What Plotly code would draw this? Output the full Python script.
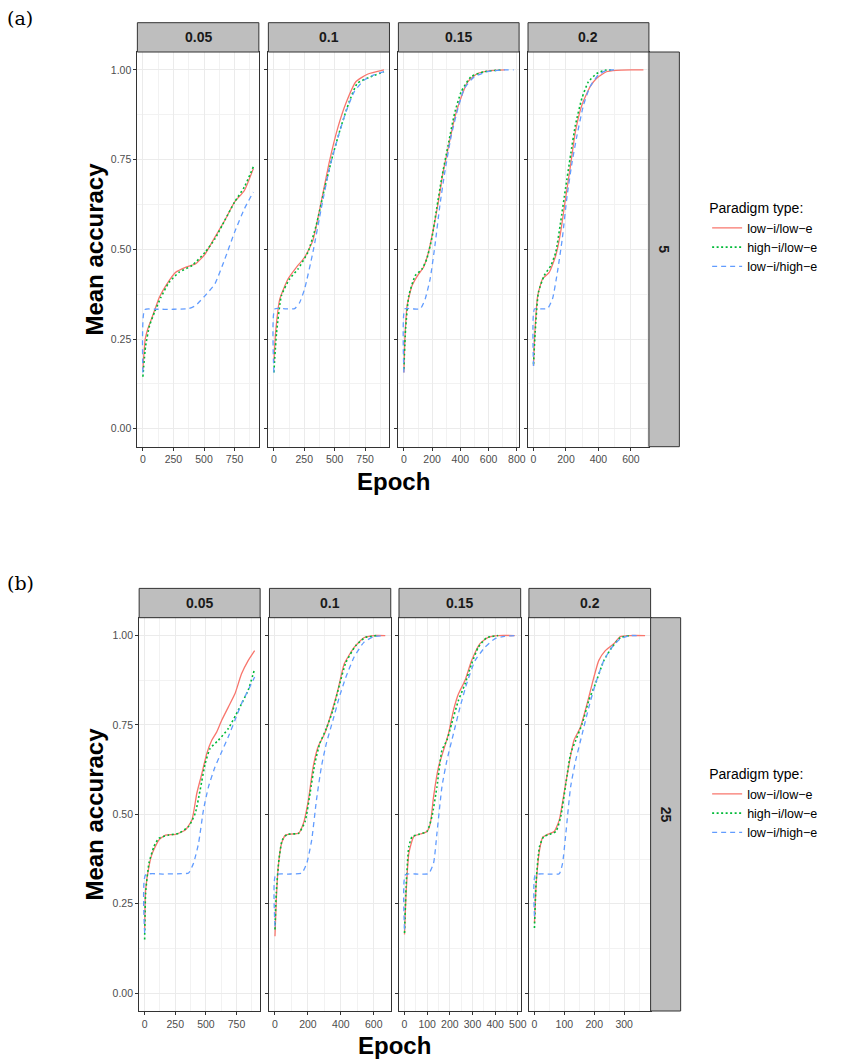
import plotly.graph_objects as go

W, H = 851, 1059

# ---------------- data: panel (a), n = 5 ----------------
facet_labels = ["0.05", "0.1", "0.15", "0.2"]
series_names = ["low\u2212i/low\u2212e", "high\u2212i/low\u2212e", "low\u2212i/high\u2212e"]

a05_lole_x = [0, 19, 40, 80, 134, 188, 268, 348, 429, 509, 589, 670, 750, 830, 903]
a05_lole_y = [0.166, 0.25, 0.278, 0.315, 0.366, 0.399, 0.436, 0.45, 0.459, 0.487, 0.534, 0.581, 0.632, 0.664, 0.725]
a05_hile_x = [0, 22, 54, 94, 147, 214, 295, 402, 509, 589, 670, 750, 830, 903]
a05_hile_y = [0.145, 0.23, 0.287, 0.324, 0.366, 0.408, 0.436, 0.455, 0.492, 0.529, 0.581, 0.632, 0.674, 0.73]
a05_lohe_x = [0, 15, 100, 250, 375, 429, 509, 589, 670, 750, 830, 903]
a05_lohe_y = [0.157, 0.332, 0.333, 0.333, 0.335, 0.343, 0.371, 0.404, 0.473, 0.548, 0.613, 0.66]

a10_lole_x = [0, 14, 49, 117, 185, 253, 321, 389, 456, 524, 592, 674, 769, 905]
a10_lole_y = [0.185, 0.268, 0.362, 0.418, 0.45, 0.478, 0.525, 0.632, 0.744, 0.837, 0.907, 0.967, 0.988, 1.0]
a10_hile_x = [0, 22, 62, 130, 198, 280, 348, 416, 484, 552, 619, 687, 796, 905]
a10_hile_y = [0.157, 0.268, 0.371, 0.418, 0.445, 0.492, 0.567, 0.669, 0.762, 0.842, 0.911, 0.963, 0.981, 0.995]
a10_lohe_x = [0, 8, 100, 171, 212, 253, 321, 389, 456, 524, 592, 660, 742, 823, 905]
a10_lohe_y = [0.157, 0.334, 0.334, 0.335, 0.352, 0.39, 0.492, 0.613, 0.725, 0.809, 0.883, 0.939, 0.972, 0.986, 0.995]

a15_lole_x = [0, 7, 23, 58, 104, 139, 174, 209, 244, 278, 313, 359, 394, 452, 522, 614, 715]
a15_lole_y = [0.157, 0.25, 0.343, 0.399, 0.431, 0.45, 0.492, 0.557, 0.632, 0.716, 0.781, 0.865, 0.911, 0.967, 0.99, 0.998, 1.0]
a15_hile_x = [0, 12, 35, 81, 128, 162, 197, 232, 267, 313, 359, 406, 475, 568, 684]
a15_hile_y = [0.166, 0.278, 0.371, 0.427, 0.445, 0.473, 0.529, 0.613, 0.697, 0.79, 0.879, 0.939, 0.981, 0.995, 1.0]
a15_lohe_x = [0, 7, 60, 116, 151, 186, 220, 255, 290, 336, 383, 429, 499, 591, 707, 777]
a15_lohe_y = [0.157, 0.334, 0.334, 0.334, 0.362, 0.418, 0.511, 0.623, 0.716, 0.818, 0.893, 0.949, 0.981, 0.995, 1.0, 1.0]

a20_lole_x = [0, 6, 26, 56, 97, 137, 167, 197, 228, 258, 298, 348, 389, 449, 510, 600, 677]
a20_lole_y = [0.175, 0.25, 0.371, 0.418, 0.436, 0.483, 0.548, 0.641, 0.734, 0.828, 0.902, 0.953, 0.977, 0.995, 0.999, 1.0, 1.0]
a20_hile_x = [0, 10, 30, 66, 107, 137, 167, 197, 228, 258, 298, 338, 389, 440, 489]
a20_hile_y = [0.18, 0.268, 0.38, 0.427, 0.455, 0.492, 0.576, 0.669, 0.762, 0.846, 0.921, 0.967, 0.99, 0.999, 1.0]
a20_lohe_x = [0, 6, 50, 87, 117, 147, 177, 207, 238, 268, 308, 348, 399, 449, 510]
a20_lohe_y = [0.175, 0.334, 0.334, 0.335, 0.362, 0.436, 0.529, 0.65, 0.744, 0.818, 0.902, 0.953, 0.986, 0.999, 1.0]

# ---------------- data: panel (b), n = 25 ----------------
b05_lole_x = [0, 8, 35, 62, 116, 170, 251, 332, 386, 426, 467, 507, 548, 588, 629, 683, 737, 791, 845, 898]
b05_lole_y = [0.178, 0.289, 0.354, 0.391, 0.428, 0.442, 0.444, 0.456, 0.484, 0.559, 0.614, 0.67, 0.707, 0.73, 0.763, 0.8, 0.837, 0.893, 0.93, 0.958]
b05_hile_x = [0, 8, 35, 76, 116, 197, 278, 359, 413, 453, 494, 534, 601, 683, 764, 845, 898]
b05_hile_y = [0.15, 0.28, 0.363, 0.41, 0.433, 0.442, 0.447, 0.466, 0.503, 0.568, 0.642, 0.684, 0.707, 0.74, 0.791, 0.847, 0.907]
b05_lohe_x = [0, 8, 150, 300, 359, 399, 440, 480, 521, 575, 629, 683, 737, 791, 845, 898]
b05_lohe_y = [0.168, 0.331, 0.333, 0.334, 0.336, 0.363, 0.419, 0.512, 0.577, 0.633, 0.675, 0.717, 0.763, 0.81, 0.847, 0.884]

b10_lole_x = [0, 8, 20, 40, 64, 103, 143, 173, 203, 232, 262, 302, 342, 382, 421, 481, 540, 600, 670]
b10_lole_y = [0.159, 0.261, 0.354, 0.419, 0.442, 0.445, 0.447, 0.475, 0.54, 0.633, 0.689, 0.726, 0.782, 0.847, 0.921, 0.967, 0.994, 1.0, 1.0]
b10_hile_x = [0, 8, 24, 44, 74, 143, 183, 213, 242, 272, 312, 352, 391, 431, 491, 550, 620]
b10_hile_y = [0.178, 0.28, 0.373, 0.428, 0.444, 0.447, 0.48, 0.559, 0.642, 0.698, 0.74, 0.791, 0.861, 0.925, 0.972, 0.995, 1.0]
b10_lohe_x = [0, 4, 80, 163, 193, 223, 252, 282, 312, 352, 391, 431, 481, 540, 600, 670]
b10_lohe_y = [0.187, 0.331, 0.333, 0.336, 0.363, 0.428, 0.54, 0.633, 0.698, 0.763, 0.828, 0.884, 0.94, 0.981, 0.997, 1.0]

b15_lole_x = [0, 7, 19, 41, 70, 99, 114, 128, 150, 172, 194, 216, 238, 267, 296, 332, 369, 413, 486]
b15_lole_y = [0.164, 0.28, 0.391, 0.438, 0.445, 0.452, 0.475, 0.549, 0.633, 0.679, 0.726, 0.791, 0.837, 0.875, 0.93, 0.977, 0.995, 1.0, 1.0]
b15_hile_x = [0, 7, 19, 34, 63, 99, 121, 143, 165, 187, 208, 238, 267, 296, 325, 362, 413]
b15_hile_y = [0.168, 0.298, 0.41, 0.438, 0.444, 0.452, 0.494, 0.577, 0.679, 0.707, 0.754, 0.819, 0.865, 0.921, 0.967, 0.994, 1.0]
b15_lohe_x = [0, 4, 60, 106, 128, 143, 165, 187, 216, 245, 274, 311, 354, 398, 442, 488]
b15_lohe_y = [0.178, 0.331, 0.333, 0.334, 0.363, 0.447, 0.577, 0.651, 0.726, 0.8, 0.865, 0.93, 0.967, 0.991, 0.998, 1.0]

b20_lole_x = [0, 6, 17, 28, 44, 66, 83, 99, 116, 132, 154, 176, 193, 215, 237, 265, 287, 320, 370]
b20_lole_y = [0.196, 0.308, 0.4, 0.436, 0.444, 0.452, 0.484, 0.559, 0.642, 0.707, 0.744, 0.809, 0.865, 0.93, 0.958, 0.977, 0.997, 1.0, 1.0]
b20_hile_x = [0, 6, 17, 31, 50, 72, 88, 105, 121, 138, 160, 182, 204, 232, 259, 287, 320]
b20_hile_y = [0.182, 0.317, 0.41, 0.438, 0.444, 0.452, 0.494, 0.586, 0.67, 0.707, 0.754, 0.819, 0.865, 0.93, 0.967, 0.994, 1.0]
b20_lohe_x = [0, 3, 45, 83, 94, 105, 121, 138, 160, 182, 204, 232, 259, 287, 320, 342]
b20_lohe_y = [0.215, 0.331, 0.333, 0.334, 0.363, 0.447, 0.577, 0.651, 0.726, 0.8, 0.865, 0.93, 0.967, 0.991, 1.0, 1.0]

y_tickvals = [0, 0.25, 0.5, 0.75, 1.0]
x_dticks_a = [250, 250, 200, 200]
x_dticks_b = [250, 200, 100, 100]

panel_a = [
    [(a05_lole_x, a05_lole_y), (a05_hile_x, a05_hile_y), (a05_lohe_x, a05_lohe_y)],
    [(a10_lole_x, a10_lole_y), (a10_hile_x, a10_hile_y), (a10_lohe_x, a10_lohe_y)],
    [(a15_lole_x, a15_lole_y), (a15_hile_x, a15_hile_y), (a15_lohe_x, a15_lohe_y)],
    [(a20_lole_x, a20_lole_y), (a20_hile_x, a20_hile_y), (a20_lohe_x, a20_lohe_y)],
]
panel_b = [
    [(b05_lole_x, b05_lole_y), (b05_hile_x, b05_hile_y), (b05_lohe_x, b05_lohe_y)],
    [(b10_lole_x, b10_lole_y), (b10_hile_x, b10_hile_y), (b10_lohe_x, b10_lohe_y)],
    [(b15_lole_x, b15_lole_y), (b15_hile_x, b15_hile_y), (b15_lohe_x, b15_lohe_y)],
    [(b20_lole_x, b20_lole_y), (b20_hile_x, b20_hile_y), (b20_lohe_x, b20_lohe_y)],
]

# ---------------- styling ----------------
colors = ["#F8766D", "#00BA38", "#619CFF"]
dashes = ["solid", "2px,2.5px", "5px,4px"]
widths = [1.3, 1.6, 1.3]
FONT = "Liberation Sans, Arial, Helvetica, sans-serif"

def px_x(p):
    return p / W

def px_y(p):
    return 1 - p / H

panels = [
    dict(data=panel_a, dticks=x_dticks_a, row_label="5", legend="legend",
         xdom=[(138.5, 261.0), (270.6, 392.7), (401.7, 523.4), (532.4, 654.3)],
         top=52.0, bottom=446.7, strip_top=22.7, rstrip_right=685.0,
         tag="(a)", tag_y=18, epoch_y=481, legend_top=195),
    dict(data=panel_b, dticks=x_dticks_b, row_label="25", legend="legend2",
         xdom=[(140.3, 262.3), (271.7, 394.0), (402.3, 525.0), (533.3, 656.0)],
         top=617.7, bottom=1011.0, strip_top=588.4, rstrip_right=686.3,
         tag="(b)", tag_y=583, epoch_y=1045, legend_top=761),
]

fig = go.Figure()
layout = dict(
    width=W, height=H, margin=dict(l=0, r=0, t=0, b=0),
    paper_bgcolor="white", plot_bgcolor="white",
    showlegend=True, shapes=[], annotations=[],
)

axis_idx = 0
for p in panels:
    for f in range(4):
        axis_idx += 1
        sfx = "" if axis_idx == 1 else str(axis_idx)
        xname, yname = "x" + sfx, "y" + sfx
        xmax = max(max(s[0]) for s in p["data"][f])
        for si, (xs, ys) in enumerate(p["data"][f]):
            fig.add_trace(go.Scatter(
                x=xs, y=ys, mode="lines", name=series_names[si],
                xaxis=xname, yaxis=yname,
                line=dict(color=colors[si], dash=dashes[si], width=widths[si],
                          shape="spline", smoothing=0.5),
                legend=p["legend"], showlegend=(f == 0),
            ))
        x0, x1 = p["xdom"][f]
        dt = p["dticks"][f]
        layout["xaxis" + sfx] = dict(
            domain=[px_x(x0), px_x(x1)], anchor=yname,
            range=[-0.05 * xmax, 1.05 * xmax], tick0=0, dtick=dt,
            showgrid=True, gridcolor="#EBEBEB", gridwidth=1,
            minor=dict(tick0=dt / 2, dtick=dt, showgrid=True, gridcolor="#F2F2F2", gridwidth=0.6, ticks=""),
            showline=True, mirror=True, linecolor="#333333", linewidth=1,
            ticks="outside", ticklen=3, tickcolor="#333333", tickwidth=1,
            tickfont=dict(family=FONT, size=10.5, color="#4D4D4D"),
            zeroline=False, fixedrange=True,
        )
        layout["yaxis" + sfx] = dict(
            domain=[px_y(p["bottom"]), px_y(p["top"])], anchor=xname,
            range=[-0.05, 1.05], tickvals=y_tickvals, tickformat=".2f",
            showticklabels=(f == 0),
            showgrid=True, gridcolor="#EBEBEB", gridwidth=1,
            minor=dict(tick0=0.125, dtick=0.25, showgrid=True, gridcolor="#F2F2F2", gridwidth=0.6, ticks=""),
            showline=True, mirror=True, linecolor="#333333", linewidth=1,
            ticks="outside", ticklen=3, tickcolor="#333333", tickwidth=1,
            tickfont=dict(family=FONT, size=10.5, color="#4D4D4D"),
            zeroline=False, fixedrange=True,
        )
        # top strip
        layout["shapes"].append(dict(
            type="rect", xref="paper", yref="paper",
            x0=px_x(x0), x1=px_x(x1), y0=px_y(p["top"]), y1=px_y(p["strip_top"]),
            fillcolor="#BEBEBE", line=dict(color="#333333", width=1), layer="above",
        ))
        layout["annotations"].append(dict(
            xref="paper", yref="paper", x=px_x((x0 + x1) / 2),
            y=px_y((p["top"] + p["strip_top"]) / 2), text=facet_labels[f],
            showarrow=False, xanchor="center", yanchor="middle",
            font=dict(family=FONT, size=14, color="#1A1A1A", weight="bold"),
        ))
    # right strip
    rx0 = p["xdom"][3][1]
    layout["shapes"].append(dict(
        type="rect", xref="paper", yref="paper",
        x0=px_x(rx0), x1=px_x(p["rstrip_right"]), y0=px_y(p["bottom"]), y1=px_y(p["top"]),
        fillcolor="#BEBEBE", line=dict(color="#333333", width=1), layer="above",
    ))
    layout["annotations"].append(dict(
        xref="paper", yref="paper", x=px_x((rx0 + p["rstrip_right"]) / 2),
        y=px_y((p["top"] + p["bottom"]) / 2), text=p["row_label"], textangle=90,
        showarrow=False, xanchor="center", yanchor="middle",
        font=dict(family=FONT, size=14, color="#1A1A1A", weight="bold"),
    ))
    # axis titles
    layout["annotations"].append(dict(
        xref="paper", yref="paper", x=px_x((p["xdom"][0][0] + p["xdom"][3][1]) / 2),
        y=px_y(p["epoch_y"]), text="Epoch", showarrow=False,
        xanchor="center", yanchor="middle",
        font=dict(family=FONT, size=24, color="black", weight="bold"),
    ))
    layout["annotations"].append(dict(
        xref="paper", yref="paper", x=px_x(95),
        y=px_y((p["top"] + p["bottom"]) / 2), text="Mean accuracy", textangle=-90,
        showarrow=False, xanchor="center", yanchor="middle",
        font=dict(family=FONT, size=24, color="black", weight="bold"),
    ))
    layout["annotations"].append(dict(
        xref="paper", yref="paper", x=px_x(5), y=px_y(p["tag_y"]), text=p["tag"],
        showarrow=False, xanchor="left", yanchor="middle",
        font=dict(family="DejaVu Serif, Liberation Serif, serif", size=19, color="black"),
    ))
    layout[p["legend"]] = dict(
        x=px_x(713), y=px_y(p["legend_top"]), xanchor="left", yanchor="top",
        bgcolor="rgba(0,0,0,0)", borderwidth=0,
        title=dict(text="Paradigm type:", font=dict(family=FONT, size=14, color="black")),
        font=dict(family=FONT, size=12.5, color="black"),
        tracegroupgap=0, itemwidth=30,
    )

fig.update_layout(**layout)
fig.write_html(
    "out.html",
    config={"displayModeBar": False},
    post_script="document.body.style.margin='0';document.body.style.overflow='hidden';",
)
